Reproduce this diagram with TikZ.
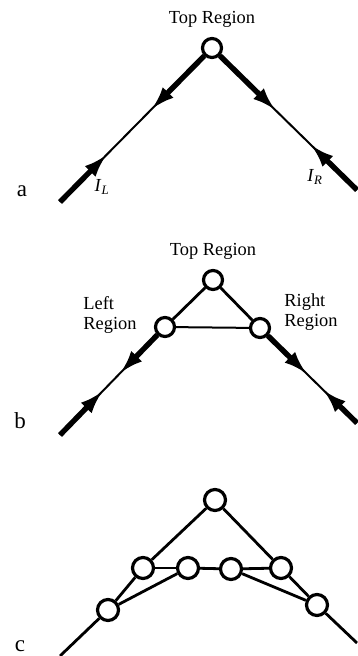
\documentclass[tikz,border=0pt]{standalone}
\usepackage{fontspec}
\setmainfont{Liberation Serif}
\usetikzlibrary{arrows.meta, calc, positioning}

\tikzset{
  region/.style={circle, draw, line width=3.2pt, minimum size=19pt,
                 inner sep=0pt, fill=white},
  wire/.style={line width=2pt},
  link/.style={line width=2.8pt},
  flow/.style={line width=5.4pt, -{Latex[length=24pt,width=15pt]}},
  lbl/.style={font=\fontsize{18.4}{20}\selectfont, inner sep=0pt},
  panel/.style={font=\fontsize{23}{25}\selectfont, inner sep=0pt},
}

\begin{document}
\begin{tikzpicture}[x=1pt, y=-1pt]
\useasboundingbox (0,0) rectangle (357,656);

% (a) one region, two leads
\node[region] (ta) at (212,48) {};
\node[lbl, above=9pt of ta] (tatext) {Top Region};
\coordinate (aLend) at (60,202);
\coordinate (aRend) at (357,190);
\coordinate (aL1) at ($(ta)!0.40!(aLend)$);
\coordinate (aL2) at ($(ta)!0.69!(aLend)$);
\coordinate (aR1) at ($(ta)!0.44!(aRend)$);
\coordinate (aR2) at ($(ta)!0.68!(aRend)$);
\draw[wire] (ta) -- (aLend);
\draw[wire] (ta) -- (aRend);
\draw[flow] (ta) -- (aL1);
\draw[flow] (aLend) -- (aL2);
\draw[flow] (ta) -- (aR1);
\draw[flow] (aRend) -- (aR2);
\node[lbl] (il) at (102,187) {\textit{I}\textsubscript{\textit{L}}};
\node[lbl] (ir) at (315,177) {\textit{I}\textsubscript{\textit{R}}};
\node[panel] (pa) at (22,191) {a};

% (b) three regions
\node[region] (tb) at (213,280) {};
\node[region] (lb) at (165,327) {};
\node[region] (rb) at (260,328) {};
\node[lbl, above=9pt of tb] (tbtext) {Top Region};
\node[lbl, align=left] (lbtext) at (110,315) {Left\\Region};
\node[lbl, align=left] (rbtext) at (311,312) {Right\\Region};
\coordinate (bLend) at (60,435);
\coordinate (bRend) at (357,423);
\coordinate (bL1) at ($(lb)!0.43!(bLend)$);
\coordinate (bL2) at ($(lb)!0.59!(bLend)$);
\coordinate (bR1) at ($(rb)!0.485!(bRend)$);
\coordinate (bR2) at ($(rb)!0.65!(bRend)$);
\draw[link] (tb) -- (lb);
\draw[link] (tb) -- (rb);
\draw[wire] (lb) -- (rb);
\draw[wire] (lb) -- (bLend);
\draw[wire] (rb) -- (bRend);
\draw[flow] (lb) -- (bL1);
\draw[flow] (bLend) -- (bL2);
\draw[flow] (rb) -- (bR1);
\draw[flow] (bRend) -- (bR2);
\node[panel] (pb) at (20,421) {b};

% (c) seven regions
\node[region, minimum size=21pt] (tc) at (215,500) {};
\node[region, minimum size=21pt] (c1) at (143,568) {};
\node[region, minimum size=21pt] (c2) at (188,568) {};
\node[region, minimum size=21pt] (c3) at (231,569) {};
\node[region, minimum size=21pt] (c4) at (281,568) {};
\node[region, minimum size=21pt] (cl) at (108,610) {};
\node[region, minimum size=21pt] (cr) at (317,605) {};
\coordinate (cLend) at (60,656);
\coordinate (cRend) at (357,643);
\draw[link] (tc) -- (c1);
\draw[link] (tc) -- (c4);
\draw[link] (c1) -- (c2);
\draw[link] (c2) -- (c3);
\draw[link] (c3) -- (c4);
\draw[link] (c1) -- (cl);
\draw[link] (cl) -- (c2);
\draw[link] (c3) -- (cr);
\draw[link] (c4) -- (cr);
\draw[link] (cl) -- (cLend);
\draw[link] (cr) -- (cRend);
\node[panel] (pc) at (20,646) {c};
\end{tikzpicture}
\end{document}
